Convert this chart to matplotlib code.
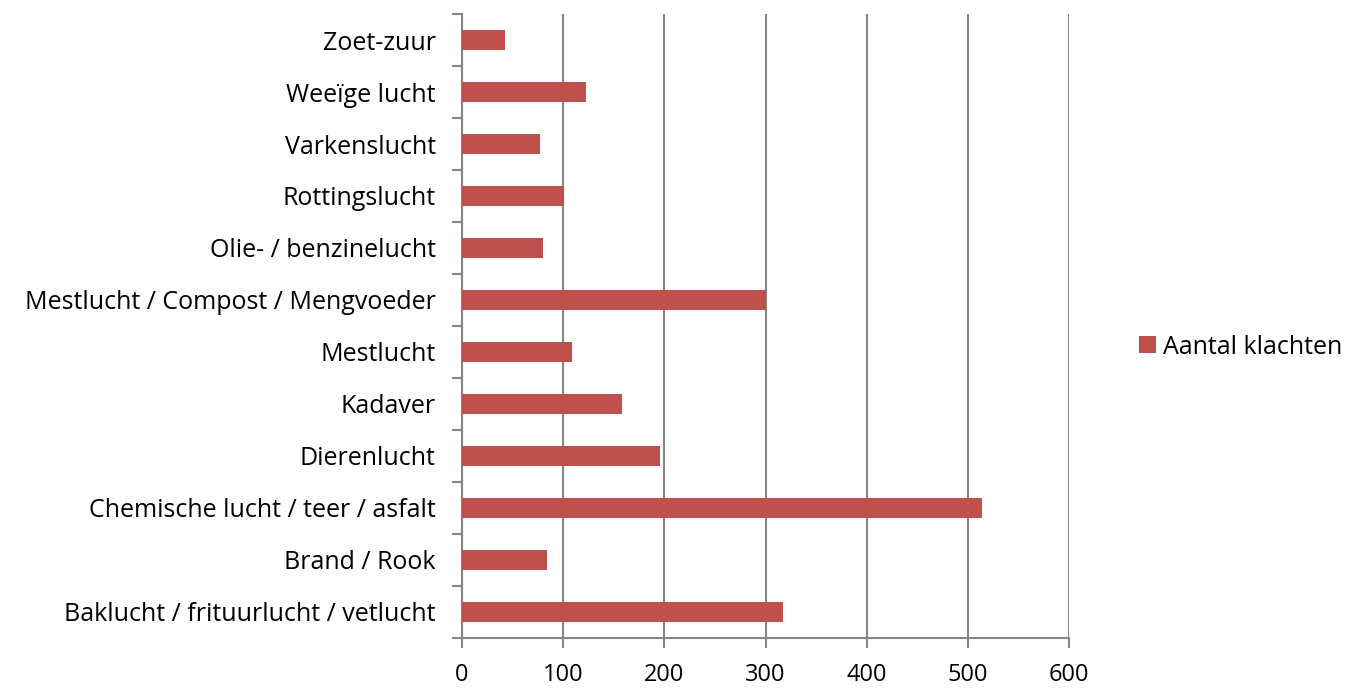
import matplotlib.pyplot as plt
import numpy as np

categories = ['Baklucht / frituurlucht / vetlucht', 'Brand / Rook', 'Chemische lucht / teer / asfalt',
              'Dierenlucht', 'Kadaver', 'Mestlucht', 'Mestlucht / Compost / Mengvoeder',
              'Olie- / benzinelucht', 'Rottingslucht', 'Varkenslucht', 'Weeïge lucht', 'Zoet-zuur']
klachten = [317, 84, 514, 196, 158, 109, 300, 80, 101, 77, 123, 42]
series_name = 'Aantal klachten'
xticks = [0, 100, 200, 300, 400, 500, 600]

plt.rcParams['font.family'] = ['Open Sans', 'DejaVu Sans']
grey = '#868686'

fig = plt.figure(figsize=(13.49, 6.90), dpi=100)
ax = fig.add_axes([0.3425, 0.0754, 0.45, 0.9043])

y = np.arange(len(categories))
ax.barh(y, klachten, height=0.38, color='#C0504D', label=series_name, zorder=3)

ax.set_xlim(0, 600)
ax.set_ylim(-0.5, len(categories) - 0.5)
ax.set_xticks(xticks)
ax.set_xticklabels([str(t) for t in xticks], fontsize=17)
ax.set_yticks(y)
ax.set_yticklabels(categories, fontsize=18)
ax.tick_params(axis='y', which='major', length=0, pad=19)
ax.set_yticks(np.arange(-0.5, len(categories), 1), minor=True)
ax.tick_params(axis='y', which='minor', length=7, width=1.5, color=grey, direction='out')
ax.tick_params(axis='x', length=7, width=1.5, color=grey, direction='out', pad=11)

ax.grid(axis='x', color=grey, linewidth=1.5, zorder=0)
for s in ['top', 'right']:
    ax.spines[s].set_visible(False)
for s in ['left', 'bottom']:
    ax.spines[s].set_color(grey)
    ax.spines[s].set_linewidth(1.5)

fig.legend(loc='center left', bbox_to_anchor=(0.828, 0.497), frameon=False, fontsize=18,
           handlelength=0.65, handleheight=0.65, handletextpad=0.3)

fig.savefig('out.png', dpi=100)
